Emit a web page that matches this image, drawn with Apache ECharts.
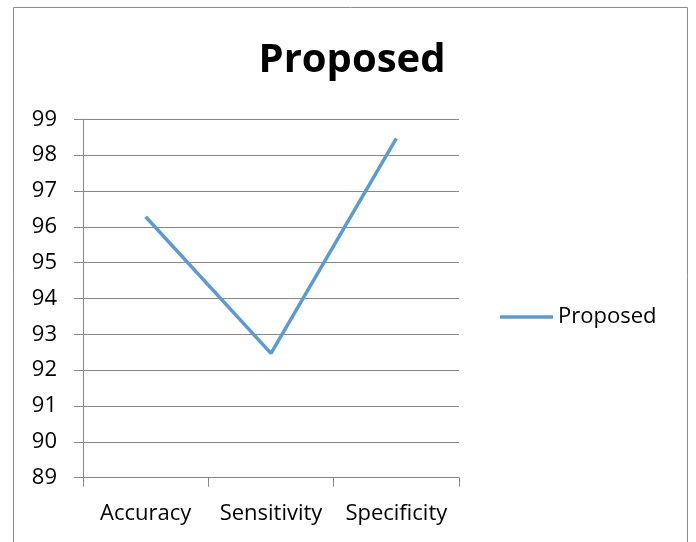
<!DOCTYPE html>
<html>
<head>
<meta charset="utf-8">
<script src="https://cdn.jsdelivr.net/npm/echarts@6/dist/echarts.min.js"></script>
<style>
  html, body { margin: 0; padding: 0; background: #fff; }
  #chart { width: 696px; height: 542px; }
</style>
</head>
<body>
<div id="chart"></div>
<script>
// Metric names along the x axis
const categories = ['Accuracy', 'Sensitivity', 'Specificity'];
// Scores (%) of the proposed method
const proposedValues = [96.28, 92.47, 98.47];
const seriesName = 'Proposed';
const chartTitle = 'Proposed';

const FONT = '"Open Sans", "Noto Sans", sans-serif';
const AXIS_GRAY = '#868686';
const LINE_BLUE = '#5B9BD5';

const chart = echarts.init(document.getElementById('chart'), null, { renderer: 'canvas' });

chart.setOption({
  animation: false,
  backgroundColor: '#ffffff',
  title: {
    text: chartTitle,
    left: 347,
    textAlign: 'center',
    top: 36,
    textStyle: { fontFamily: FONT, fontWeight: 'bold', fontSize: 40, color: '#000' }
  },
  graphic: [{
    type: 'rect',
    shape: { x: 13.5, y: 7.5, width: 674, height: 545 },
    style: { fill: 'none', stroke: '#8c8c8c', lineWidth: 1 },
    silent: true
  }],
  legend: {
    data: [{ name: seriesName, icon: 'rect' }],
    left: 500,
    top: 305,
    orient: 'vertical',
    itemWidth: 53,
    itemHeight: 3.5,
    itemGap: 0,
    itemStyle: { color: LINE_BLUE },
    lineStyle: { width: 0 },
    textStyle: { fontFamily: FONT, fontSize: 22, color: '#000', lineHeight: 24 },
    padding: 0
  },
  grid: { left: 83, top: 119.3, width: 376, height: 358.4, containLabel: false },
  xAxis: {
    type: 'category',
    data: categories,
    boundaryGap: true,
    axisLine: { show: true, lineStyle: { color: AXIS_GRAY, width: 1 } },
    axisTick: { show: true, interval: 0, length: 9, alignWithLabel: false, lineStyle: { color: AXIS_GRAY } },
    axisLabel: { interval: 0, hideOverlap: false, fontFamily: FONT, fontSize: 22, color: '#000', margin: 25 },
    splitLine: { show: false }
  },
  yAxis: {
    type: 'value',
    min: 89,
    max: 99,
    interval: 1,
    axisLine: { show: true, lineStyle: { color: AXIS_GRAY, width: 1 } },
    axisTick: { show: true, length: 9, lineStyle: { color: AXIS_GRAY } },
    axisLabel: { fontFamily: FONT, fontSize: 22, color: '#000', margin: 26 },
    splitLine: { show: true, lineStyle: { color: AXIS_GRAY, width: 1 } }
  },
  series: [{
    name: seriesName,
    type: 'line',
    data: proposedValues,
    symbol: 'none',
    lineStyle: { color: LINE_BLUE, width: 3.5 },
    itemStyle: { color: LINE_BLUE }
  }]
});
</script>
</body>
</html>
